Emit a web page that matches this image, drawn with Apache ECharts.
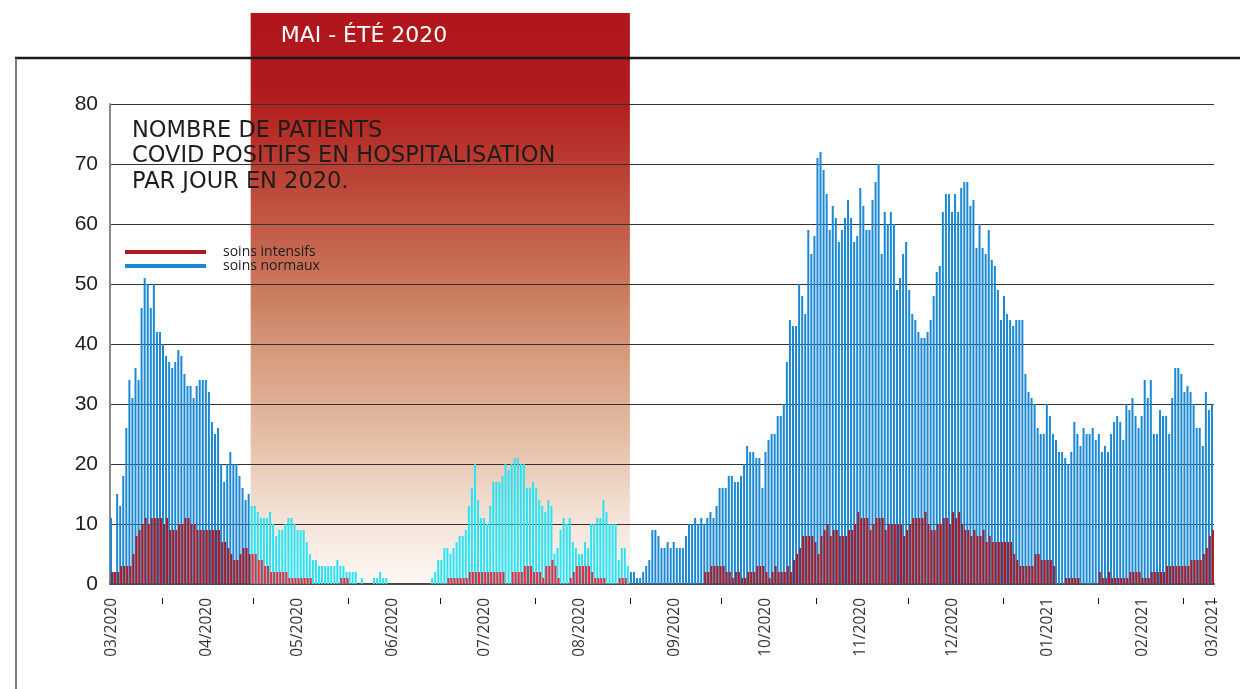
<!DOCTYPE html>
<html>
<head>
<meta charset="utf-8">
<script src="https://cdn.jsdelivr.net/npm/echarts@6/dist/echarts.min.js"></script>
<style>
html,body{margin:0;padding:0;background:#ffffff;}
#chart{width:1240px;height:689px;}
</style>
</head>
<body>
<div id="chart"></div>
<script>
// ---- data (daily values, first day 2020-03-15) ----
const firstDay = '2020-03-15';
const soinsNormaux = [
11,2,15,13,18,26,34,31,36,34,
46,51,50,46,50,42,42,40,38,37,
36,37,39,38,35,33,33,31,33,34,
34,34,32,27,25,26,20,17,20,22,
20,20,18,16,14,15,13,13,12,11,
11,11,12,10,8,9,9,10,11,11,
10,9,9,9,7,5,4,4,3,3,
3,3,3,3,4,3,3,2,2,2,
2,0,1,0,0,0,1,1,2,1,
1,0,0,0,0,0,0,0,0,0,
0,0,0,0,0,1,2,4,4,6,
6,5,6,7,8,8,9,13,16,20,
14,11,11,10,13,17,17,17,18,20,
19,20,21,21,20,20,16,16,17,16,
14,13,12,14,13,5,6,9,11,10,
11,7,6,5,5,7,6,10,10,11,
11,14,12,10,10,10,4,6,6,3,
2,2,1,1,2,3,4,9,9,8,
6,6,7,6,7,6,6,6,8,10,
10,11,10,11,10,11,12,11,13,16,
16,16,18,18,17,17,18,20,23,22,
22,21,21,16,22,24,25,25,28,28,
30,37,44,43,43,50,48,45,59,55,
58,71,72,69,65,59,63,61,57,59,
61,64,61,57,58,66,63,59,59,64,
67,70,55,62,60,62,60,49,51,55,
57,49,45,44,42,41,41,42,44,48,
52,53,62,65,65,62,65,62,66,67,
67,63,64,56,60,56,55,59,54,53,
49,44,48,45,44,43,44,44,44,35,
32,31,30,26,25,25,30,28,25,24,
22,22,21,20,22,27,25,23,26,25,
25,26,24,25,22,23,22,25,27,28,
27,24,30,29,31,28,26,28,34,31,
34,25,25,29,28,28,25,31,36,36,
35,32,33,32,30,26,26,23,32,29,
30
];
const soinsIntensifs = [
2,2,2,3,3,3,3,5,8,9,
10,11,10,11,11,11,11,10,11,9,
9,9,10,10,11,11,10,10,9,9,
9,9,9,9,9,9,7,7,6,5,
4,4,5,6,6,5,5,5,4,4,
3,3,2,2,2,2,2,2,1,1,
1,1,1,1,1,1,0,0,0,0,
0,0,0,0,0,1,1,1,0,0,
0,0,0,0,0,0,0,0,0,0,
0,0,0,0,0,0,0,0,0,0,
0,0,0,0,0,0,0,0,0,0,
1,1,1,1,1,1,1,2,2,2,
2,2,2,2,2,2,2,2,2,0,
0,2,2,2,2,3,3,3,2,2,
2,1,3,3,4,3,1,0,0,0,
1,2,3,3,3,3,3,2,1,1,
1,1,0,0,0,0,1,1,1,0,
0,0,0,0,0,0,0,0,0,0,
0,0,0,0,0,0,0,0,0,0,
0,0,0,0,2,2,3,3,3,3,
3,2,2,1,2,2,1,1,2,2,
2,3,3,3,2,1,2,3,2,2,
2,3,2,4,5,6,8,8,8,8,
7,5,8,9,10,8,9,9,8,8,
8,9,9,10,12,11,11,11,9,10,
11,11,11,9,10,10,10,10,10,8,
9,10,11,11,11,11,12,10,9,9,
10,10,11,11,10,12,11,12,10,9,
9,8,9,8,8,9,7,8,7,7,
7,7,7,7,7,5,4,3,3,3,
3,3,5,5,4,4,4,4,3,0,
0,0,1,1,1,1,1,0,0,0,
0,0,0,2,1,1,2,1,1,1,
1,1,1,2,2,2,2,1,1,1,
2,2,2,2,2,3,3,3,3,3,
3,3,3,4,4,4,4,5,6,8,
9
];
const monthLabels = ['03/2020','04/2020','05/2020','06/2020','07/2020','08/2020','09/2020','10/2020','11/2020','12/2020','01/2021','02/2021','03/2021'];
const yTicks = [0,10,20,30,40,50,60,70,80];
const highlightStart = '2020-04-30';
const highlightEnd = '2020-08-31';
const highlightTitle = 'MAI - ÉTÉ 2020';
const chartTitle = 'NOMBRE DE PATIENTS\nCOVID POSITIFS EN HOSPITALISATION\nPAR JOUR EN 2020.';

// ---- categories (one per day) ----
const [fy, fm, fd] = firstDay.split('-').map(Number);
const categories = soinsNormaux.map((_, i) =>
  new Date(Date.UTC(fy, fm - 1, fd + i)).toISOString().slice(0, 10));
const fmtMonth = v => v.slice(5, 7) + '/' + v.slice(0, 4);
const lastIdx = categories.length - 1;
const showLabel = (i, v) => (v.slice(8) === '15' || i === lastIdx) && monthLabels.indexOf(fmtMonth(v)) >= 0;
const showTick = (i, v) => v.slice(8) === '01';
const inHighlight = v => v >= highlightStart && v <= highlightEnd;

const BLUE = '#1b88d4', CYAN = '#2ae3f2', DARKRED = '#ae1a21', BRIGHTRED = '#f2293d';

const chart = echarts.init(document.getElementById('chart'), null, {renderer: 'canvas'});

const option = {
  animation: false,
  backgroundColor: '#ffffff',
  grid: {left: 110, right: 26, top: 104, bottom: 105, containLabel: false},
  title: {
    text: chartTitle,
    left: 127, top: 113,
    textStyle: {fontFamily: 'DejaVu Sans', fontSize: 22.5, fontWeight: 'normal', color: '#1d1d1b', lineHeight: 25.5}
  },
  legend: {
    data: ['soins intensifs', 'soins normaux'],
    orient: 'vertical', left: 125, top: 245, padding: 0,
    icon: 'rect', itemWidth: 81, itemHeight: 4, itemGap: 0,
    selectedMode: false,
    textStyle: {fontFamily: 'Open Sans', fontSize: 14, color: '#1d1d1b', lineHeight: 13.5, padding: [0, 0, 0, 12]}
  },
  xAxis: [{
    type: 'category', data: categories, boundaryGap: true,
    axisLine: {show: true, lineStyle: {color: '#4a4a4a', width: 2}},
    axisTick: {show: false},
    axisLabel: {
      interval: showLabel, rotate: 90, margin: 14,
      fontFamily: 'Open Sans', fontSize: 15.5, color: '#333333',
      formatter: v => fmtMonth(v)
    },
    splitLine: {show: false}
  }, {
    type: 'category', data: categories, boundaryGap: true, position: 'bottom', offset: 14,
    axisLine: {show: false},
    axisTick: {show: true, interval: showTick, length: 6, lineStyle: {color: '#111111', width: 1}},
    axisLabel: {show: false},
    splitLine: {show: false}
  }],
  yAxis: {
    type: 'value', min: yTicks[0], max: yTicks[yTicks.length - 1], interval: 10,
    axisLine: {show: true, lineStyle: {color: '#8a8a8a', width: 2}},
    axisTick: {show: false},
    axisLabel: {margin: 12, fontFamily: 'Liberation Sans', fontSize: 21, color: '#1d1d1b'},
    splitLine: {show: true, lineStyle: {color: '#333333', width: 1}}
  },
  series: [{
    name: 'soins normaux', type: 'bar', xAxisIndex: 0,
    barWidth: 2, barGap: '-50%',
    itemStyle: {color: BLUE},
    data: soinsNormaux.map((v, i) => inHighlight(categories[i]) ? {value: v, itemStyle: {color: CYAN}} : v),
    z: 2
  }, {
    name: 'soins intensifs', type: 'bar', xAxisIndex: 0,
    barWidth: 2, barGap: '-50%',
    itemStyle: {color: DARKRED},
    data: soinsIntensifs.map((v, i) => inHighlight(categories[i]) ? {value: v, itemStyle: {color: BRIGHTRED}} : v),
    z: 2
  }]
};
chart.setOption(option);

// ---- highlight band, header and frame placed through the axes ----
const iS = categories.indexOf(highlightStart), iE = categories.indexOf(highlightEnd);
const c0 = chart.convertToPixel({xAxisIndex: 0}, categories[0]);
const c1 = chart.convertToPixel({xAxisIndex: 0}, categories[1]);
const bw = c1 - c0;
const bx0 = chart.convertToPixel({xAxisIndex: 0}, categories[iS]) - bw / 2;
const bx1 = chart.convertToPixel({xAxisIndex: 0}, categories[iE]) + bw / 2;
const yBottom = chart.convertToPixel({yAxisIndex: 0}, 0);
const bandTop = 13;

chart.setOption({
  graphic: [
    {
      type: 'rect', z: -1, silent: true,
      shape: {x: bx0, y: bandTop, width: bx1 - bx0, height: yBottom - bandTop},
      style: {
        fill: {
          type: 'linear', x: 0, y: 0, x2: 0, y2: 1,
          colorStops: [
            {offset: 0, color: '#b0161c'},
            {offset: 0.13, color: '#b01a1e'},
            {offset: 0.17, color: '#b3221f'},
            {offset: 0.485, color: '#ca7a5e'},
            {offset: 0.61, color: '#d79e80'},
            {offset: 0.75, color: '#e5c0a7'},
            {offset: 0.82, color: '#ecd2c1'},
            {offset: 0.89, color: '#f5e4d9'},
            {offset: 1, color: '#fdf8f5'}
          ]
        }
      }
    },
    {
      type: 'text', z: 20, silent: true,
      x: bx0 + 30, y: 36,
      style: {text: highlightTitle, fill: '#ffffff', font: 'normal 22px "DejaVu Sans"', verticalAlign: 'middle', textAlign: 'left'}
    },
    {
      type: 'line', z: 20, silent: true,
      shape: {x1: 15, y1: 58, x2: 1240, y2: 58},
      style: {stroke: '#1a1a1a', lineWidth: 2.5}
    },
    {
      type: 'line', z: 20, silent: true,
      shape: {x1: 16, y1: 58, x2: 16, y2: 689},
      style: {stroke: '#555555', lineWidth: 1.5}
    }
  ]
});
</script>
</body>
</html>
